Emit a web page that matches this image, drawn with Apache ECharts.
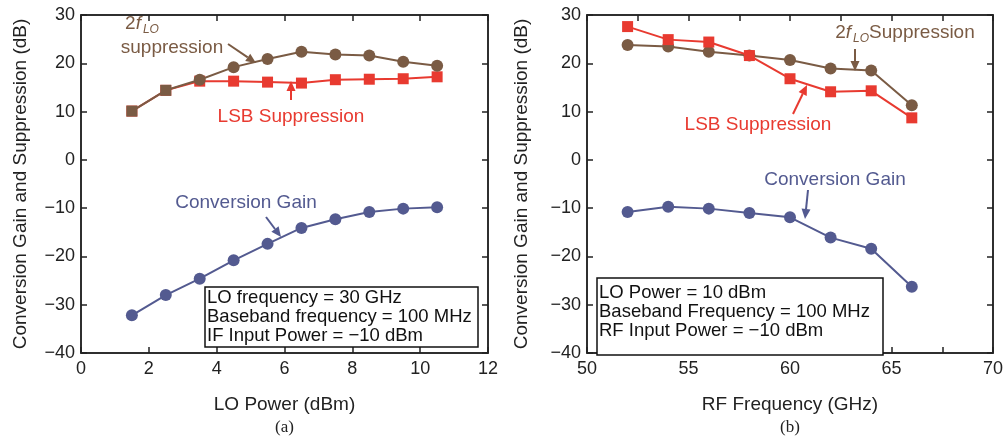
<!DOCTYPE html>
<html><head><meta charset="utf-8">
<script src="https://cdn.jsdelivr.net/npm/echarts@6/dist/echarts.min.js"></script>
<style>html,body{margin:0;padding:0;background:#fff}#c{width:1008px;height:441px}</style>
</head><body><div id="c"></div>
<script>
// ---- data ----
const loPower = [1.5, 2.5, 3.5, 4.5, 5.5, 6.5, 7.5, 8.5, 9.5, 10.5];
const a_2flo = [10.1, 14.4, 16.6, 19.2, 20.9, 22.4, 21.8, 21.6, 20.3, 19.5];
const a_lsb  = [10.1, 14.4, 16.3, 16.3, 16.1, 15.9, 16.6, 16.7, 16.8, 17.2];
const a_gain = [-32.2, -28.0, -24.6, -20.8, -17.4, -14.1, -12.3, -10.8, -10.1, -9.8];

const rfFreq = [52, 54, 56, 58, 60, 62, 64, 66];
const b_2flo = [23.8, 23.5, 22.4, 21.6, 20.7, 18.9, 18.5, 11.3];
const b_lsb  = [27.6, 24.9, 24.4, 21.6, 16.8, 14.1, 14.3, 8.7];
const b_gain = [-10.8, -9.7, -10.1, -11.0, -11.9, -16.1, -18.4, -26.3];

const yTicks = [-40, -30, -20, -10, 0, 10, 20, 30];

// ---- styles ----
const BROWN = '#7a5b44', RED = '#e83a30', BLUE = '#535a90';
const FONT = 'Liberation Sans, Arial, sans-serif';

const chart = echarts.init(document.getElementById('c'));

function pairs(xs, ys){ return xs.map((x,i)=>[x, ys[i]]); }
const minus = v => String(v).replace('-', '\u2212');

function xAx(gi, min, max, interval, minor, name, tag, show){
  return {
    type:'value', gridIndex:gi, min, max, interval, position: show ? 'bottom' : 'top',
    name: show ? '{a|'+name+'}\n{b|'+tag+'}' : '', nameLocation:'middle', nameGap: 40,
    nameTextStyle:{ rich:{ a:{fontFamily:FONT,fontSize:19,color:'#222',lineHeight:23}, b:{fontFamily:'Liberation Serif, Times New Roman, serif',fontSize:17,color:'#222',lineHeight:23} } },
    axisLine:{show:true,onZero:false,lineStyle:{color:'#222',width:1.5}},
    axisTick:{show:true,inside:true,length:6,lineStyle:{color:'#222',width:1.5}},
    minorTick: minor ? {show:true,splitNumber:2,length:6,lineStyle:{color:'#222',width:1.5}} : {show:false},
    axisLabel:{show:show, color:'#222', fontFamily:FONT, fontSize:18, margin:7},
    splitLine:{show:false}
  };
}
function yAx(gi, show, gap){
  return {
    type:'value', gridIndex:gi, min:-40, max:30, interval:10, position: show ? 'left' : 'right',
    name: show ? 'Conversion Gain and Suppression (dB)' : '', nameLocation:'middle', nameGap:gap||50,
    nameTextStyle:{fontFamily:FONT,fontSize:19,color:'#222'},
    axisLine:{show:true,onZero:false,lineStyle:{color:'#222',width:1.5}},
    axisTick:{show:true,inside:true,length:6,lineStyle:{color:'#222',width:1.5}},
    axisLabel:{show:show,color:'#222',fontFamily:FONT,fontSize:18,margin:6,
      formatter:v=> yTicks.includes(v) ? minus(v) : ''},
    splitLine:{show:false}
  };
}
function ser(xi, yi, data, color, symbol, z){
  return { type:'line', xAxisIndex:xi, yAxisIndex:yi, data, symbol, symbolSize: symbol==='circle'?12:11,
    lineStyle:{color, width:2}, itemStyle:{color}, z, animation:false };
}

// Left 2fLO: first two points appear as squares
const a2floData = pairs(loPower, a_2flo).map((p,i)=> i<2 ? {value:p, symbol:'rect', symbolSize:11} : p);

function arrow(x1,y1,x2,y2,color){
  const ang = Math.atan2(y2-y1, x2-x1), L=10, W=4.5;
  const bx = x2 - L*Math.cos(ang), by = y2 - L*Math.sin(ang);
  const px = -Math.sin(ang)*W, py = Math.cos(ang)*W;
  return [
    {type:'line', shape:{x1,y1,x2:bx,y2:by}, style:{stroke:color,lineWidth:2}, z:100},
    {type:'polygon', shape:{points:[[x2,y2],[bx+px,by+py],[bx-px,by-py]]}, style:{fill:color}, z:100}
  ];
}
function txt(x,y,text,color,align){
  return {type:'text', x, y, z:100, style:{text, fill:color, font:'19px '+FONT, align:align||'left', verticalAlign:'middle'}};
}
const richLO = { i:{fontStyle:'italic',fontSize:19,fontFamily:FONT,padding:[0,2,0,0]}, s:{fontStyle:'italic',fontSize:12,fontFamily:FONT,padding:[11,0,0,0]}, n:{fontSize:19,fontFamily:FONT} };
function box(x,y,w,h,lines,dy){
  const els = [{type:'rect', shape:{x,y,width:w,height:h}, style:{fill:'#fff',stroke:'#111',lineWidth:1.5}, z:90}];
  lines.forEach((t,i)=> els.push({type:'text', x:x+2, y:y+dy+i*19, z:100, style:{text:t, fill:'#111', font:'18.5px '+FONT, verticalAlign:'middle'}}));
  return els;
}

const graphic = [].concat(
  // left
  [{type:'text', x:142, y:24, z:100, style:{text:'{n|2}{i|f}{s|LO}', fill:BROWN, align:'center', verticalAlign:'middle', rich:richLO}}],
  [txt(172,48,'suppression',BROWN,'center')],
  arrow(228,44,256,63,BROWN),
  [txt(291,117,'LSB Suppression',RED,'center')],
  arrow(291,100,291,81,RED),
  [txt(246,203,'Conversion Gain',BLUE,'center')],
  arrow(266,217,281,237,BLUE),
  box(205,287,273,60,['LO frequency = 30 GHz','Baseband frequency = 100 MHz','IF Input Power = \u221210 dBm'],11),
  // right
  [{type:'text', x:905, y:33, z:100, style:{text:'{n|2}{i|f}{s|LO}{n|Suppression}', fill:BROWN, align:'center', verticalAlign:'middle', rich:richLO}}],
  arrow(855,49,855,71,BROWN),
  [txt(758,125,'LSB Suppression',RED,'center')],
  arrow(793,114,807,85,RED),
  [txt(835,180,'Conversion Gain',BLUE,'center')],
  arrow(808,190,805,219,BLUE),
  box(597,278,286,77,['LO Power = 10 dBm','Baseband Frequency = 100 MHz','RF Input Power = \u221210 dBm'],15)
);

chart.setOption({
  backgroundColor:'#fff',
  animation:false,
  grid:[
    {left:81, top:15, width:407, height:340, show:true, borderColor:'#222', borderWidth:1.5, backgroundColor:'transparent'},
    {left:587, top:15, width:406, height:340, show:true, borderColor:'#222', borderWidth:1.5, backgroundColor:'transparent'}
  ],
  xAxis:[
    xAx(0,0,12,2,false,'LO Power (dBm)','(a)',true),
    xAx(0,0,12,2,false,'','',false),
    xAx(1,50,70,5,true,'RF Frequency (GHz)','(b)',true),
    xAx(1,50,70,5,true,'','',false)
  ],
  yAxis:[ yAx(0,true,51), yAx(0,false), yAx(1,true,56), yAx(1,false) ],
  series:[
    ser(0,0,pairs(loPower,a_lsb),RED,'rect',2),
    ser(0,0,a2floData,BROWN,'circle',3),
    ser(0,0,pairs(loPower,a_gain),BLUE,'circle',3),
    ser(2,2,pairs(rfFreq,b_2flo),BROWN,'circle',2),
    ser(2,2,pairs(rfFreq,b_lsb),RED,'rect',3),
    ser(2,2,pairs(rfFreq,b_gain),BLUE,'circle',3)
  ],
  graphic
});
</script></body></html>
